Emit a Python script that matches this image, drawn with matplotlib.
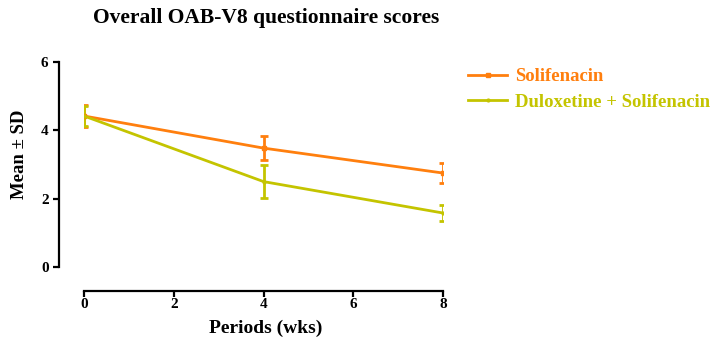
import matplotlib
matplotlib.use("Agg")
import matplotlib.pyplot as plt
from matplotlib.lines import Line2D

weeks = [0, 4, 8]
soli_mean = [4.42, 3.48, 2.75]
soli_sd = [0.32, 0.36, 0.30]
dulo_mean = [4.42, 2.50, 1.58]
dulo_sd = [0.30, 0.48, 0.24]
labels = ["Solifenacin", "Duloxetine + Solifenacin"]
c_soli = "#FF7F0E"
c_dulo = "#C4C400"

plt.rcParams['font.family'] = ['Liberation Serif', 'DejaVu Serif']
plt.rcParams['font.weight'] = 'bold'

fig = plt.figure(figsize=(7.23, 3.41), dpi=100)
ax = fig.add_axes([84/723, 1-267/341, (443-84)/723, (267-62)/341])

ax.errorbar(weeks, soli_mean, yerr=soli_sd, color=c_soli, lw=2, capsize=3, capthick=2,
            marker='s', ms=3)
ax.errorbar(weeks, dulo_mean, yerr=dulo_sd, color=c_dulo, lw=2, capsize=3, capthick=2,
            marker='o', ms=2)

ax.set_xlim(0, 8)
ax.set_ylim(0, 6)
ax.set_xticks([0, 2, 4, 6, 8])
ax.set_yticks([0, 2, 4, 6])
for s in ['top', 'right']:
    ax.spines[s].set_visible(False)
ax.spines['left'].set_position(('outward', 18))
ax.spines['bottom'].set_position(('outward', 17))
for s in ['left', 'bottom']:
    ax.spines[s].set_linewidth(1.6)
ax.tick_params(width=1.6, length=4.5, labelsize=11)
ax.tick_params(axis='x', pad=1)
ax.tick_params(axis='y', pad=3)
for t in ax.get_xticklabels() + ax.get_yticklabels():
    t.set_fontweight('bold')

ax.set_xlabel("Periods (wks)", fontsize=14, fontweight='bold')
ax.set_ylabel("Mean \u00b1 SD", fontsize=13.5, fontweight='bold')
ax.xaxis.set_label_coords((266-84)/359, -(328-267)/205)
ax.yaxis.set_label_coords((20-84)/359, (267-154)/205)
ax.xaxis.label.set_va('center')
ax.yaxis.label.set_va('center')
fig.text(266/723, 1-18/341, "Overall OAB-V8 questionnaire scores", ha='center', va='center',
         fontsize=15.5, fontweight='bold')

handles = [Line2D([], [], color=c_soli, lw=2, marker='s', ms=3),
           Line2D([], [], color=c_dulo, lw=2, marker='o', ms=2)]
leg = fig.legend(handles, labels, loc='upper left', bbox_to_anchor=(468/723, 1-68/341),
                 frameon=False, fontsize=13.5, handlelength=2.1, handletextpad=0.4,
                 labelspacing=0.45, borderaxespad=0, borderpad=0)
for t, c in zip(leg.get_texts(), [c_soli, c_dulo]):
    t.set_color(c)
    t.set_fontweight('bold')

fig.savefig("out.png", dpi=100)
